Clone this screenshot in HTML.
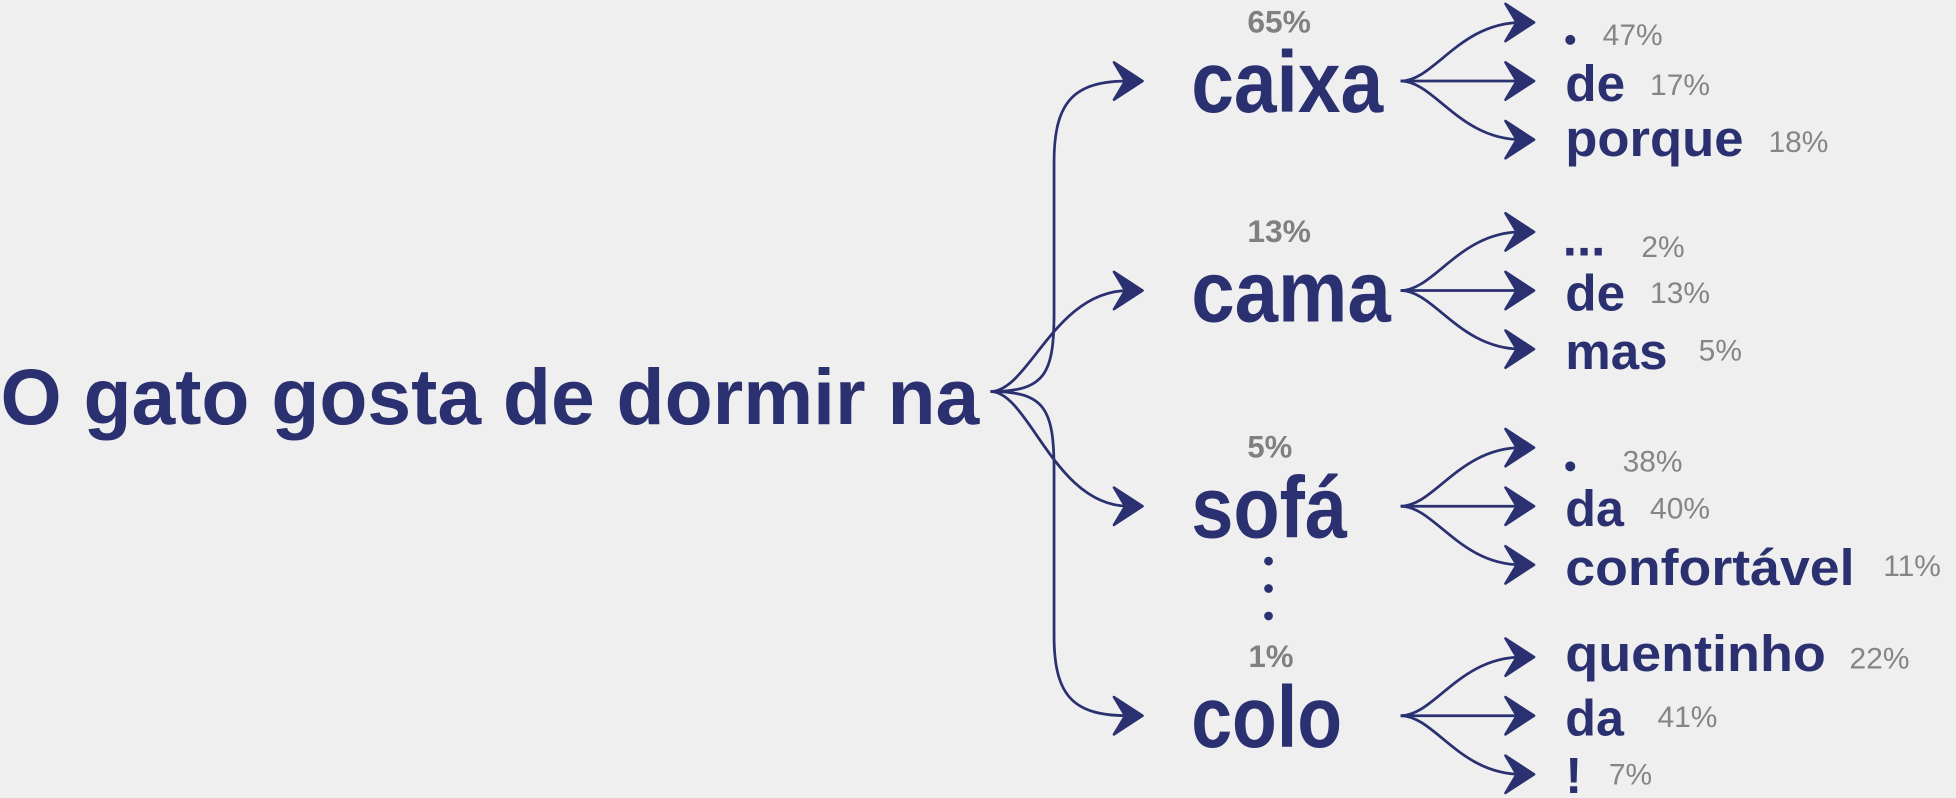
<!DOCTYPE html>
<html><head><meta charset="utf-8"><style>
html,body{margin:0;padding:0;background:#efefef;}
svg{display:block;}
.b{font-family:"Liberation Sans",sans-serif;font-weight:bold;fill:#2b3070;}
.p{font-family:"Liberation Sans",sans-serif;fill:#858585;}
.pb{font-family:"Liberation Sans",sans-serif;font-weight:bold;fill:#808080;}
</style></head><body>
<svg width="1956" height="798" viewBox="0 0 1568 640" xmlns="http://www.w3.org/2000/svg">
<rect width="1568" height="640" fill="#efefef"/>
<g fill="none" stroke="#2b3070" stroke-width="2.2">
<path d="M794,314 C838,314 845,300 845,250 L845,130 C845,80 862,65 905,65"/>
<path d="M794,314 C825,314 845,233 905,233"/>
<path d="M794,314 C825,314 845,406 905,406"/>
<path d="M794,314 C838,314 845,328 845,378 L845,510 C845,560 862,574 905,574"/>
</g>
<g fill="none" stroke="#2b3070" stroke-width="2.2">
<path d="M1123,65 C1150,65 1170,18 1220,18"/><path d="M1123,65 L1220,65"/><path d="M1123,65 C1150,65 1170,112 1220,112"/>
<path d="M1123,233 C1150,233 1170,186 1220,186"/><path d="M1123,233 L1220,233"/><path d="M1123,233 C1150,233 1170,280 1220,280"/>
<path d="M1123,406 C1150,406 1170,359 1220,359"/><path d="M1123,406 L1220,406"/><path d="M1123,406 C1150,406 1170,453 1220,453"/>
<path d="M1123,574 C1150,574 1170,527 1220,527"/><path d="M1123,574 L1220,574"/><path d="M1123,574 C1150,574 1170,621 1220,621"/>
</g>
<g fill="#2b3070" stroke="#2b3070" stroke-width="2" stroke-linejoin="round">
<polygon points="893,50 916,65 893,80 902,65"/>
<polygon points="893,218 916,233 893,248 902,233"/>
<polygon points="893,391 916,406 893,421 902,406"/>
<polygon points="893,559 916,574 893,589 902,574"/>
<polygon points="1207,3 1230,18 1207,33 1216,18"/>
<polygon points="1207,50 1230,65 1207,80 1216,65"/>
<polygon points="1207,97 1230,112 1207,127 1216,112"/>
<polygon points="1207,171 1230,186 1207,201 1216,186"/>
<polygon points="1207,218 1230,233 1207,248 1216,233"/>
<polygon points="1207,265 1230,280 1207,295 1216,280"/>
<polygon points="1207,344 1230,359 1207,374 1216,359"/>
<polygon points="1207,391 1230,406 1207,421 1216,406"/>
<polygon points="1207,438 1230,453 1207,468 1216,453"/>
<polygon points="1207,512 1230,527 1207,542 1216,527"/>
<polygon points="1207,559 1230,574 1207,589 1216,574"/>
<polygon points="1207,606 1230,621 1207,636 1216,621"/>
</g>
<text class="b" x="0" y="340" font-size="63" textLength="785" lengthAdjust="spacingAndGlyphs">O gato gosta de dormir na</text>
<text class="b" x="955" y="90" font-size="70" textLength="154" lengthAdjust="spacingAndGlyphs">caixa</text>
<text class="b" x="955" y="258" font-size="70" textLength="160" lengthAdjust="spacingAndGlyphs">cama</text>
<text class="b" x="955" y="431" font-size="70" textLength="125" lengthAdjust="spacingAndGlyphs">sofá</text>
<text class="b" x="955" y="599" font-size="70" textLength="121" lengthAdjust="spacingAndGlyphs">colo</text>
<text class="pb" x="1000" y="26" font-size="25" textLength="51" lengthAdjust="spacingAndGlyphs">65%</text>
<text class="pb" x="1000" y="194" font-size="25" textLength="51" lengthAdjust="spacingAndGlyphs">13%</text>
<text class="pb" x="1000" y="367" font-size="25" textLength="36" lengthAdjust="spacingAndGlyphs">5%</text>
<text class="pb" x="1001" y="535" font-size="25" textLength="36" lengthAdjust="spacingAndGlyphs">1%</text>
<g fill="#2b3070"><circle cx="1017" cy="450" r="3.5"/><circle cx="1017" cy="472" r="3.5"/><circle cx="1017" cy="494" r="3.5"/><circle cx="1259" cy="32" r="4"/><circle cx="1259" cy="374" r="4"/></g>
<g class="b" font-size="41">
<text x="1255" y="81" textLength="48" lengthAdjust="spacingAndGlyphs">de</text>
<text x="1255" y="125" textLength="143" lengthAdjust="spacingAndGlyphs">porque</text>
<text x="1253" y="205">...</text>
<text x="1255" y="249" textLength="48" lengthAdjust="spacingAndGlyphs">de</text>
<text x="1255" y="296" textLength="82" lengthAdjust="spacingAndGlyphs">mas</text>
<text x="1255" y="422" textLength="47" lengthAdjust="spacingAndGlyphs">da</text>
<text x="1255" y="469" textLength="232" lengthAdjust="spacingAndGlyphs">confortável</text>
<text x="1255" y="538" textLength="209" lengthAdjust="spacingAndGlyphs">quentinho</text>
<text x="1255" y="590" textLength="47" lengthAdjust="spacingAndGlyphs">da</text>
<text x="1255" y="636">!</text>
</g>
<g class="p" font-size="24">
<text x="1285" y="36">47%</text>
<text x="1323" y="76">17%</text>
<text x="1418" y="122">18%</text>
<text x="1316" y="206">2%</text>
<text x="1323" y="243">13%</text>
<text x="1362" y="289">5%</text>
<text x="1301" y="378">38%</text>
<text x="1323" y="416">40%</text>
<text x="1510" y="462">11%</text>
<text x="1483" y="536">22%</text>
<text x="1329" y="583">41%</text>
<text x="1290" y="629">7%</text>
</g>
</svg>
</body></html>
